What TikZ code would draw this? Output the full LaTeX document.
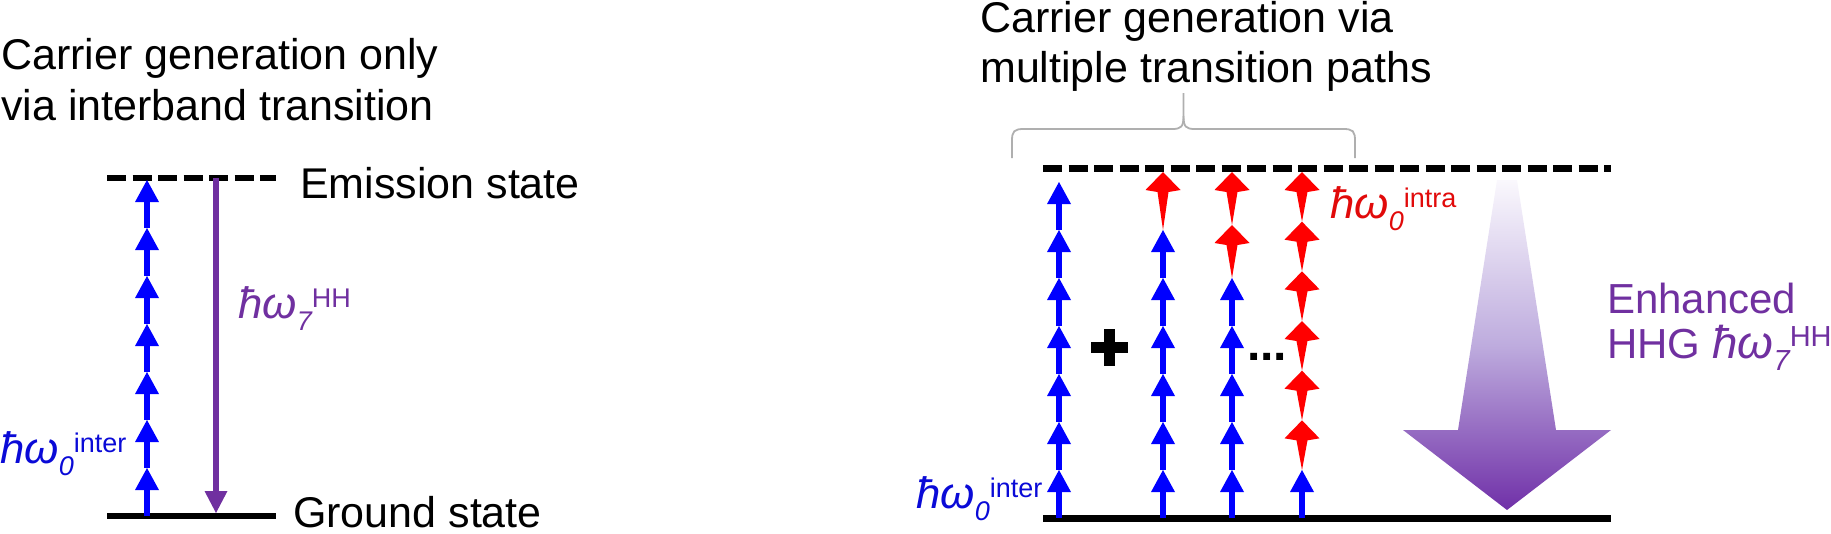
\documentclass[tikz,border=0pt]{standalone}
\usepackage{fontspec}
\setmainfont{Liberation Sans}
\definecolor{hhgpurple}{RGB}{112,48,160}
\definecolor{pblue}{RGB}{0,0,255}
\definecolor{lblue}{RGB}{10,10,215}
\definecolor{pred}{RGB}{255,0,0}
\definecolor{lred}{RGB}{225,10,10}
\definecolor{bracegray}{RGB}{175,175,175}
\definecolor{shadetop}{RGB}{250,248,253}
\definecolor{shademid}{RGB}{190,172,222}
\definecolor{shadebot}{RGB}{112,48,168}
\newcommand{\enlabel}[2]{{\fontsize{44}{44}\selectfont\itshape ħω}{\fontsize{27}{27}\selectfont\raisebox{-12pt}{\itshape #1}\raisebox{11pt}{#2}}}
\newcommand{\biglabel}[2]{{\fontsize{46}{46}\selectfont\itshape ħω}{\fontsize{29}{29}\selectfont\raisebox{-12pt}{\itshape #1}\raisebox{12pt}{#2}}}
\newcommand{\bluestep}[3]{%
  \draw[pblue, line width=6.5pt] (#1,#2) -- (#1,{#3+20});
  \fill[pblue] ({#1-12},{#3+22}) -- ({#1+12},{#3+22}) -- (#1,#3) -- cycle;}
\newcommand{\redkite}[3]{%
  \fill[pred] (#1,#2) -- ({#1+17.5},{#2+18}) -- ({#1+5.5},{#2+20}) -- (#1,#3)
    -- ({#1-5.5},{#2+20}) -- ({#1-17.5},{#2+18}) -- cycle;}
\tikzset{
  txt/.style={inner sep=0pt, anchor=base west, font=\fontsize{43}{43}\selectfont},
  level/.style={line width=6.5pt, black},
  dlevel/.style={line width=6.5pt, black, dash pattern=on 19pt off 6.5pt},
}
\begin{document}
\begin{tikzpicture}[x=1pt,y=-1pt]
\useasboundingbox (0,0) rectangle (1831,533);
% ---------- left panel ----------
\node[txt] (t1a) at (1,69) {Carrier generation only};
\node[txt] (t1b) at (1,120) {via interband transition};
\coordinate (le1) at (107,178); \coordinate (le2) at (276,178);
\coordinate (lg1) at (107,516); \coordinate (lg2) at (276,516);
\draw[dlevel] (le1) -- (le2);
\draw[level, line width=6pt] (lg1) -- (lg2);
\node[txt] (emis) at (300,198) {Emission state};
\node[txt] (grnd) at (293,527) {Ground state};
\foreach \k in {0,...,6} {
  \pgfmathsetmacro{\ya}{516-48*\k}
  \pgfmathsetmacro{\yb}{516-48*(\k+1)}
  \bluestep{147}{\ya}{\yb}
}
\draw[hhgpurple, line width=6.5pt] (216,178) -- (216,493);
\fill[hhgpurple] (204.5,491) -- (227.5,491) -- (216,513) -- cycle;
\node[txt, text=hhgpurple] (lhh) at (238,318) {\enlabel{7}{HH}};
\node[txt, text=lblue] (linter) at (0,463) {\enlabel{0}{inter}};
% ---------- right panel ----------
\node[txt] (t2a) at (980,32) {Carrier generation via};
\node[txt] (t2b) at (980,82) {multiple transition paths};
\draw[bracegray, line width=1.8pt] (1012,158) -- (1012,141) .. controls (1012,131) and (1014,129) .. (1024,129)
   -- (1172,129) .. controls (1181,129) and (1183.5,127) .. (1183.5,116) -- (1183.5,93);
\draw[bracegray, line width=1.8pt] (1355,158) -- (1355,141) .. controls (1355,131) and (1353,129) .. (1343,129)
   -- (1195,129) .. controls (1186,129) and (1183.5,127) .. (1183.5,116);
\coordinate (re1) at (1043,168); \coordinate (re2) at (1611,168);
\coordinate (rg1) at (1043,518); \coordinate (rg2) at (1611,518);
\draw[dlevel, line width=7pt] (re1) -- (re2);
% big gradient arrow
\shade[top color=shadetop, bottom color=shadebot, middle color=shademid]
  (1497,180) -- (1517,180) -- (1556,430) -- (1611,430) -- (1507,510) -- (1403,430) -- (1458,430) -- cycle;
\draw[level, line width=7pt] (rg1) -- (rg2);
% column 1: 7 blue
\foreach \k in {0,...,6} {
  \pgfmathsetmacro{\ya}{518-48*\k}
  \pgfmathsetmacro{\yb}{518-48*(\k+1)}
  \bluestep{1059}{\ya}{\yb}
}
% column 2: 6 blue + 1 red
\foreach \k in {0,...,5} {
  \pgfmathsetmacro{\ya}{518-48*\k}
  \pgfmathsetmacro{\yb}{518-48*(\k+1)}
  \bluestep{1163}{\ya}{\yb}
}
\redkite{1163}{172}{230}
% column 3: 5 blue + 2 red
\foreach \k in {0,...,4} {
  \pgfmathsetmacro{\ya}{518-48*\k}
  \pgfmathsetmacro{\yb}{518-48*(\k+1)}
  \bluestep{1232}{\ya}{\yb}
}
\redkite{1232}{172}{225}
\redkite{1232}{225}{278}
% column 4: 1 blue + 6 red
\bluestep{1302}{518}{470}
\foreach \k in {0,...,5} {
  \pgfmathsetmacro{\ya}{172+49.67*\k}
  \pgfmathsetmacro{\yb}{172+49.67*(\k+1)}
  \redkite{1302}{\ya}{\yb}
}
% plus and dots
\fill (1090.5,342) rectangle (1127.5,353);
\fill (1103.5,329) rectangle (1114.5,366);
\node[inner sep=0pt, anchor=base, font=\fontsize{48}{48}\selectfont\bfseries] (dots) at (1267,360) {...};
% labels
\node[txt, text=lred] (lintra) at (1330,218) {\enlabel{0}{intra}};
\node[txt, text=lblue] (rinter) at (916,508) {\enlabel{0}{inter}};
\node[txt, text=hhgpurple, font=\fontsize{42}{42}\selectfont] (enh1) at (1607,313) {Enhanced};
\node[txt, text=hhgpurple, font=\fontsize{42}{42}\selectfont] (enh2) at (1607,358) {HHG \biglabel{7}{HH}};
\end{tikzpicture}
\end{document}
